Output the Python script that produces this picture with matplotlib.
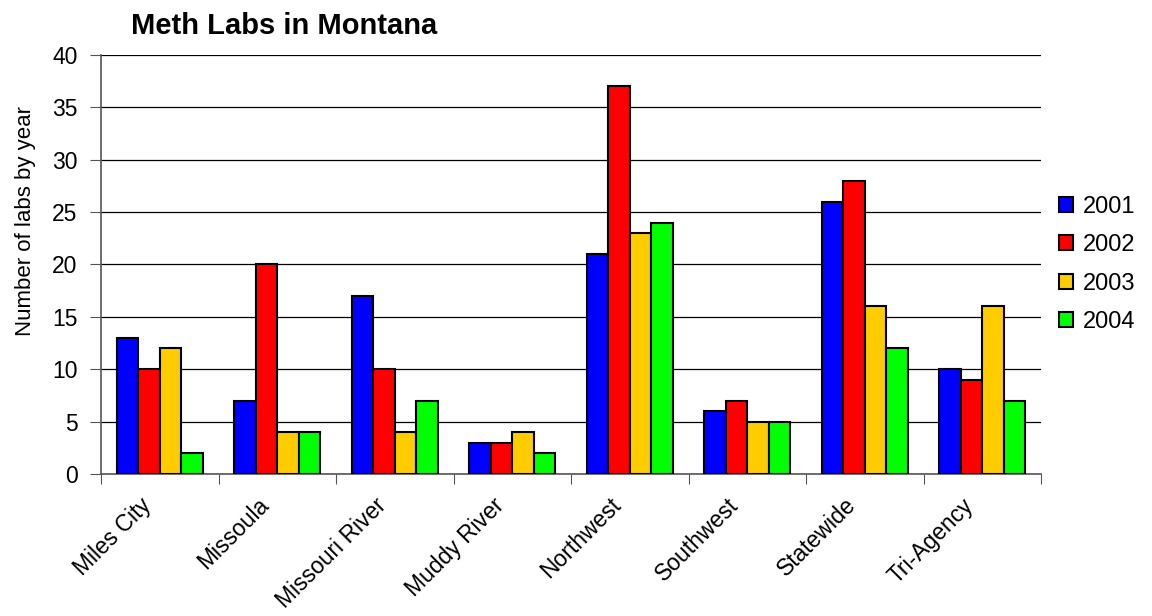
import numpy as np
import matplotlib.pyplot as plt
from matplotlib.transforms import ScaledTranslation

plt.rcParams['font.family'] = ['Liberation Sans', 'DejaVu Sans']

regions = ['Miles City', 'Missoula', 'Missouri River', 'Muddy River',
           'Northwest', 'Southwest', 'Statewide', 'Tri-Agency']
years = ['2001', '2002', '2003', '2004']
labs_2001 = [13, 7, 17, 3, 21, 6, 26, 10]
labs_2002 = [10, 20, 10, 3, 37, 7, 28, 9]
labs_2003 = [12, 4, 4, 4, 23, 5, 16, 16]
labs_2004 = [2, 4, 7, 2, 24, 5, 12, 7]
colors = ['#0000ff', '#ff0000', '#ffcc00', '#00ff00']

series = [labs_2001, labs_2002, labs_2003, labs_2004]

fig = plt.figure(figsize=(11.52, 6.16), dpi=100)
ax = fig.add_axes([101 / 1152, 1 - 474 / 616, 940 / 1152, 419 / 616])

x = np.arange(len(regions))
w = 0.182
for i, (vals, c, yr) in enumerate(zip(series, colors, years)):
    ax.bar(x + (i - 1.5) * w, vals, w, color=c, edgecolor='black',
           linewidth=1.5, label=yr, zorder=3)

ax.set_xlim(-0.5, len(regions) - 0.5)
ax.set_ylim(0, 40)
ax.set_yticks(range(0, 41, 5))
ax.yaxis.grid(True, color='black', linewidth=0.9, zorder=0)
ax.tick_params(axis='y', labelsize=16.5, length=8, color='#555555', pad=9)

# category labels between boundary ticks
ax.set_xticks(np.arange(-0.5, len(regions) + 0.5, 1))
ax.set_xticklabels([])
ax.set_xticks(x, minor=True)
ax.set_xticklabels(regions, minor=True, rotation=45, ha='right', va='center',
                   rotation_mode='anchor', fontsize=16.5)
ax.tick_params(axis='x', which='major', length=7, color='#555555')
ax.tick_params(axis='x', which='minor', length=0, pad=20)
shift = ScaledTranslation(-0.12, 0, fig.dpi_scale_trans)
for lab in ax.get_xticklabels(minor=True):
    lab.set_transform(lab.get_transform() + shift)

for s in ['top', 'right']:
    ax.spines[s].set_visible(False)
for s in ['left', 'bottom']:
    ax.spines[s].set_color('#555555')
    ax.spines[s].set_linewidth(1.2)

ax.set_ylabel('Number of labs by year', fontsize=16, va='center')
ax.yaxis.set_label_coords(-0.08, 0.604)

fig.text(0.2465, 0.957, 'Meth Labs in Montana', fontsize=21,
         fontweight='bold', ha='center', va='center')

leg = ax.legend(loc='center left', bbox_to_anchor=(0.9965, 0.5), frameon=False,
                fontsize=17, handlelength=0.6, handleheight=0.6,
                labelspacing=0.7, handletextpad=0.4)

fig.savefig('out.png', dpi=100)
